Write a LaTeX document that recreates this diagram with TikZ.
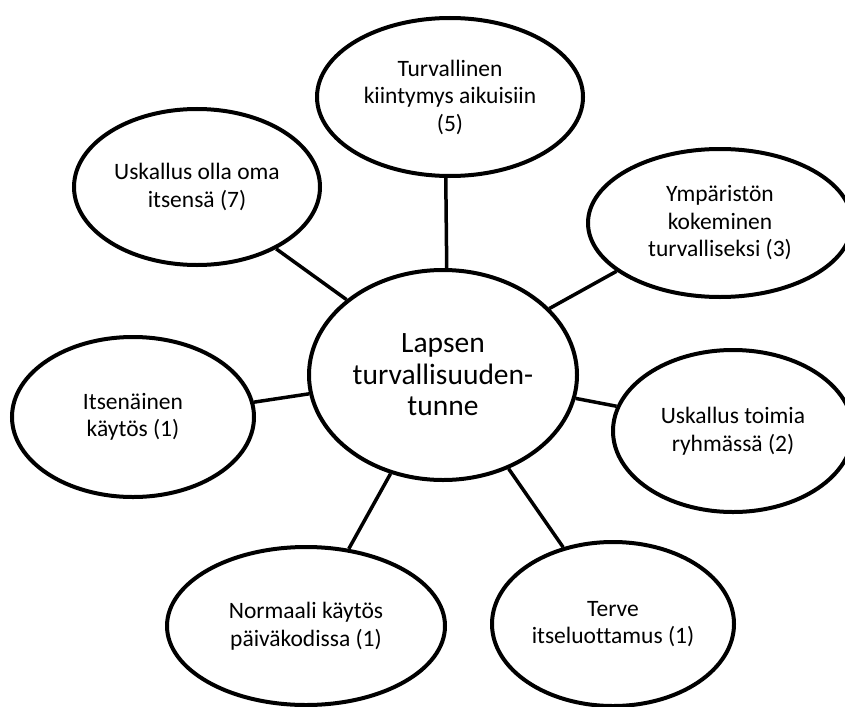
\documentclass[tikz,border=0pt]{standalone}
\usepackage{fontspec}
\setmainfont{Carlito}[Ligatures=NoCommon]
\usepackage{tikz}
\usetikzlibrary{shapes}
\tikzstyle{bubble} = [ellipse, draw, line width=4pt, align=center,
    inner sep=0pt, font=\fontsize{23.5}{27.5}\selectfont]
\tikzstyle{hubble} = [bubble, font=\fontsize{29.5}{31.5}\selectfont]
\tikzstyle{link} = [line width=3.5pt]

\begin{document}
\begin{tikzpicture}[x=1pt, y=-1pt]
		\useasboundingbox (0,0) rectangle (845,706);
		% draw the bubbles first
		\node [hubble, minimum width=268, minimum height=210] (hub) at (443,375) {Lapsen\\turvallisuuden-\\tunne};
		\node [bubble, minimum width=266, minimum height=158] (kiintymys) at (450,97) {Turvallinen\\kiintymys aikuisiin\\(5)};
		\node [bubble, minimum width=246, minimum height=156] (itsensa) at (197,187) {Uskallus olla oma\\itsens\"a (7)};
		\node [bubble, minimum width=264, minimum height=148] (ymparisto) at (720,223) {Ymp\"arist\"on\\kokeminen\\turvalliseksi (3)};
		\node [bubble, minimum width=242, minimum height=160] (itsenainen) at (133,417) {Itsen\"ainen\\k\"ayt\"os (1)};
		\node [bubble, minimum width=240, minimum height=162] (ryhma) at (733,431) {Uskallus toimia\\ryhm\"ass\"a (2)};
		\node [bubble, minimum width=278, minimum height=158] (normaali) at (306,626) {Normaali k\"ayt\"os\\p\"aiv\"akodissa (1)};
		\node [bubble, minimum width=242, minimum height=164] (itseluottamus) at (613,624) {Terve\\itseluottamus (1)};

		% draw the spokes from the hub
		\draw [link] (hub.88) -- (kiintymys.267);
		\draw [link] (hub.142) -- (itsensa.322);
		\draw [link] (hub.32) -- (ymparisto.205);
		\draw [link] (hub.188) -- (itsenainen.7);
		\draw [link] (hub.350) -- (ryhma.168);
		\draw [link] (hub.242) -- (normaali.61);
		\draw [link] (hub.305) -- (itseluottamus.123);
	\end{tikzpicture}
\end{document}
